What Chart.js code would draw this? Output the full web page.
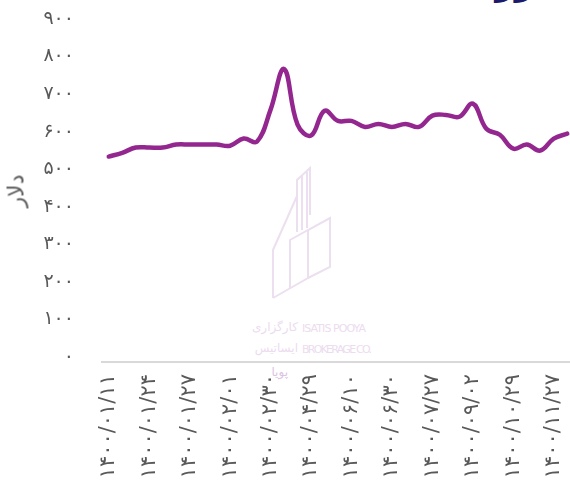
<!DOCTYPE html>
<html lang="fa">
<head>
<meta charset="utf-8">
<script src="https://cdn.jsdelivr.net/npm/chart.js@4.4.1/dist/chart.umd.min.js"></script>
<style>
  html, body { margin: 0; padding: 0; background: #fff; overflow: hidden; }
  #wrap { position: relative; width: 580px; height: 488px; }
  #title { position: absolute; top: -37px; right: 34px; font: bold 34px "DejaVu Sans", sans-serif; color: #1c1a6b; direction: rtl; white-space: nowrap; }
  #ytitle { position: absolute; left: 16px; top: 191px; transform: translate(-50%, -50%) rotate(-90deg); font: 22px "DejaVu Sans", sans-serif; color: #595959; white-space: nowrap; }
  #mark { position: absolute; left: 0; top: 0; }
  #chart { position: absolute; left: 0; top: 0; }
</style>
</head>
<body>
<div id="wrap">
  <div id="title">ارز</div>
  <svg id="mark" width="580" height="488" xmlns="http://www.w3.org/2000/svg">
    <g fill="none" stroke="#ecdff0" stroke-width="2">
      <path d="M273 298 L273 250 L297 196 L297 180 L310 168 L310 215"/>
      <path d="M297 180 L297 232 M302 176 L302 230 M307 172 L307 228"/>
      <path d="M273 298 L308 278 L308 230 L330 218 L330 267 L308 278"/>
      <path d="M290 288 L290 240 L308 230"/>
    </g>
    <g font-family="DejaVu Sans, sans-serif" fill="#ecdcef">
      <text x="298" y="331" font-size="12" text-anchor="end">کارگزاری</text>
      <text x="298" y="352" font-size="12" text-anchor="end">ایساتیس</text>
      <text x="288" y="376" font-size="12" text-anchor="end" fill="#dcc3e3">پویا</text>
      <text x="302" y="332" font-size="11" textLength="64">ISATIS POOYA</text>
      <text x="302" y="353" font-size="11" textLength="70">BROKERAGE CO.</text>
    </g>
  </svg>
  <canvas id="chart" width="580" height="488"></canvas>
  <div id="ytitle">دلار</div>
</div>
<script>
// tick labels shown under the axis (every third date)
const dateLabels = [
  '۱۴۰۰/۰۱/۱۱', '۱۴۰۰/۰۱/۲۴', '۱۴۰۰/۰۱/۲۷', '۱۴۰۰/۰۲/۰۱',
  '۱۴۰۰/۰۲/۳۰', '۱۴۰۰/۰۴/۲۹', '۱۴۰۰/۰۶/۱۰', '۱۴۰۰/۰۶/۳۰',
  '۱۴۰۰/۰۷/۲۷', '۱۴۰۰/۰۹/۰۲', '۱۴۰۰/۱۰/۲۹', '۱۴۰۰/۱۱/۲۷',
];
const LABEL_STEP = 3;

// dollar price, one value per category
const values = [
  547, 557, 571, 571, 571, 579, 579, 579, 579, 576,
  595, 587, 672, 780, 632, 603, 669, 642, 642, 626,
  634, 626, 634, 626, 656, 658, 653, 688, 621, 605,
  568, 579, 563, 595, 608,
];

const Y_MIN = 0, Y_MAX = 900, Y_STEP = 100;

const labels = values.map((_, i) => i % LABEL_STEP === 0 ? (dateLabels[i / LABEL_STEP] ?? '') : '');

const faDigits = '۰۱۲۳۴۵۶۷۸۹';
const toFa = n => String(n).replace(/\d/g, d => faDigits[d]);

const FONT = '"DejaVu Sans", sans-serif';
const GREY = '#595959';

new Chart(document.getElementById('chart'), {
  type: 'line',
  data: {
    labels,
    datasets: [{
      data: values,
      borderColor: '#93278f',
      borderWidth: 4.5,
      tension: 0.4,
      pointRadius: 0,
      borderCapStyle: 'round',
      borderJoinStyle: 'round',
      fill: false,
    }],
  },
  options: {
    responsive: false,
    animation: false,
    layout: { padding: { top: 24, right: 6, left: 0, bottom: 0 } },
    plugins: { legend: { display: false }, tooltip: { enabled: false } },
    scales: {
      x: {
        offset: true,
        grid: { display: false, drawTicks: false },
        border: { display: true, color: '#d9d9d9', width: 2 },
        ticks: {
          autoSkip: false,
          maxRotation: 90,
          minRotation: 90,
          padding: 12,
          color: GREY,
          font: { family: FONT, size: 21 },
        },
        afterFit: s => { s.height = 126; s.paddingLeft = 0; s.paddingRight = 0; },
      },
      y: {
        min: Y_MIN,
        max: Y_MAX,
        grid: { display: false, drawTicks: false },
        border: { display: false },
        ticks: {
          stepSize: Y_STEP,
          padding: 28,
          labelOffset: -5,
          color: GREY,
          font: { family: FONT, size: 19 },
          callback: v => toFa(v),
        },
        afterFit: s => { s.width = 102; s.paddingTop = 0; s.paddingBottom = 0; },
      },
    },
  },
});
</script>
</body>
</html>
